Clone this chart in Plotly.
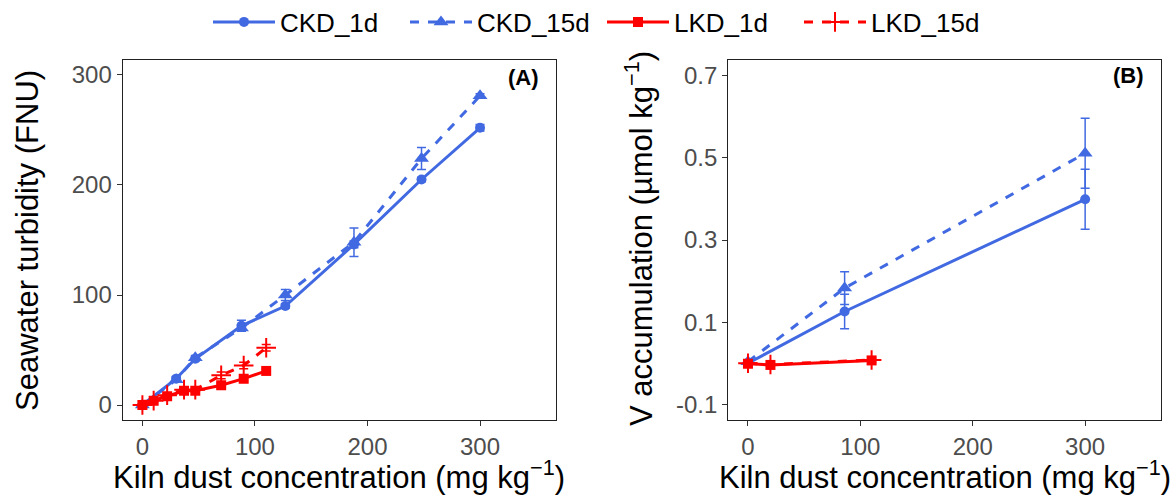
import plotly.graph_objects as go

# ---------------- data ----------------
# Panel A: seawater turbidity (FNU)
ckd_x_a = [0, 30, 47, 88, 127, 188, 248, 300]
ckd1_a = [0, 24, 42, 72, 90, 146, 205, 252]
ckd1_a_err = [1, 2, 2, 5, 2, 3, 2, 3]
ckd15_a = [0, 23, 43, 70, 100, 148, 224, 281]
ckd15_a_err = [1, 2, 2, 3, 5, 13, 10, 2]

lkd_x_a = [0, 10, 22, 37, 47, 70, 90, 110]
lkd1_a = [0, 4, 8, 13, 13, 18, 24, 31]
lkd1_a_err = [1, 1, 1, 1, 1, 2, 2, 2]
lkd15_a = [0, 4, 9, 14, 14, 27, 36, 52]
lkd15_a_err = [1, 1, 1, 1, 1, 3, 3, 3]

# Panel B: V accumulation (umol/kg)
ckd_x_b = [0, 86, 300]
ckd1_b = [0.0, 0.126, 0.399]
ckd1_b_err = [0.003, 0.042, 0.073]
ckd15_b = [0.004, 0.183, 0.511]
ckd15_b_err = [0.003, 0.040, 0.085]

lkd_x_b = [0, 20, 110]
lkd1_b = [-0.001, -0.004, 0.007]
lkd1_b_err = [0.003, 0.004, 0.005]
lkd15_b = [0.0, -0.003, 0.008]
lkd15_b_err = [0.003, 0.005, 0.006]

series_names = ["CKD_1d", "CKD_15d", "LKD_1d", "LKD_15d"]
x_ticks = [0, 100, 200, 300]
ya_ticks = [0, 100, 200, 300]
yb_ticks = [-0.1, 0.1, 0.3, 0.5, 0.7]

BLUE = "#4169E1"
RED = "#FF0000"
FONT = "Liberation Sans"

styles = {
    "CKD_1d": dict(color=BLUE, dash="solid", symbol="circle", size=10),
    "CKD_15d": dict(color=BLUE, dash="dash", symbol="triangle-up", size=13),
    "LKD_1d": dict(color=RED, dash="solid", symbol="square", size=10),
    "LKD_15d": dict(color=RED, dash="dash", symbol="cross-thin", size=14),
}

fig = go.Figure()


def add(name, x, y, err, xa, ya, show):
    s = styles[name]
    mk = dict(color=s["color"], symbol=s["symbol"], size=s["size"])
    if s["symbol"] == "cross-thin":
        mk["line"] = dict(color=s["color"], width=2)
    fig.add_trace(go.Scatter(
        x=x, y=y, name=name, mode="lines+markers",
        line=dict(color=s["color"], width=3, dash=s["dash"]),
        marker=mk,
        error_y=dict(type="data", array=err, visible=True, color=s["color"],
                     thickness=1.5, width=4.5),
        xaxis=xa, yaxis=ya, showlegend=show, legendgroup=name,
    ))


add("CKD_1d", ckd_x_a, ckd1_a, ckd1_a_err, "x", "y", True)
add("CKD_15d", ckd_x_a, ckd15_a, ckd15_a_err, "x", "y", True)
add("LKD_1d", lkd_x_a, lkd1_a, lkd1_a_err, "x", "y", True)
add("LKD_15d", lkd_x_a, lkd15_a, lkd15_a_err, "x", "y", True)

add("CKD_1d", ckd_x_b, ckd1_b, ckd1_b_err, "x2", "y2", False)
add("CKD_15d", ckd_x_b, ckd15_b, ckd15_b_err, "x2", "y2", False)
add("LKD_1d", lkd_x_b, lkd1_b, lkd1_b_err, "x2", "y2", False)
add("LKD_15d", lkd_x_b, lkd15_b, lkd15_b_err, "x2", "y2", False)

W, H = 1170, 496
ydom = [1 - 420 / H, 1 - 60 / H]

axis_common = dict(
    showline=True, mirror=True, linecolor="#222222", linewidth=1.3,
    ticks="outside", ticklen=5, tickwidth=1.3, tickcolor="#333333",
    showgrid=False, zeroline=False, automargin=False,
    tickfont=dict(family=FONT, size=24, color="#4D4D4D"),
)

fig.update_layout(
    width=W, height=H,
    margin=dict(l=0, r=0, t=0, b=0, autoexpand=False),
    paper_bgcolor="white", plot_bgcolor="white",
    font=dict(family=FONT, color="black"),
    xaxis=dict(domain=[122.7 / W, 556 / W], range=[-17.5, 367.5],
               tickvals=x_ticks, anchor="y", **axis_common),
    yaxis=dict(domain=ydom, range=[-13.6, 313.6], tickvals=ya_ticks,
               anchor="x", **axis_common),
    xaxis2=dict(domain=[728.3 / W, 1161 / W], range=[-17.5, 367.5],
                tickvals=x_ticks, anchor="y2", **axis_common),
    yaxis2=dict(domain=ydom, range=[-0.138, 0.738], tickvals=yb_ticks,
                ticktext=[f"{v:.1f}" for v in yb_ticks], anchor="x2",
                **axis_common),
    legend=dict(orientation="h", x=208 / W, xanchor="left", y=1 - 22 / H,
                yanchor="middle", font=dict(family=FONT, size=26, color="black"),
                itemwidth=62, entrywidth=120, entrywidthmode="pixels",
                tracegroupgap=0, bgcolor="rgba(0,0,0,0)"),
)

ann = []
xt = "Kiln dust concentration (mg kg<sup>\u22121</sup>)"
for cx in [(122.7 + 556) / 2 / W, (728.3 + 1161) / 2 / W]:
    ann.append(dict(text=xt, x=cx, y=1 - 475 / H, xref="paper", yref="paper",
                    xanchor="center", yanchor="middle", showarrow=False,
                    font=dict(family=FONT, size=31, color="black")))
ann.append(dict(text="Seawater turbidity (FNU)", x=28 / W, y=1 - 241 / H,
                xref="paper", yref="paper", textangle=-90,
                xanchor="center", yanchor="middle", showarrow=False,
                font=dict(family=FONT, size=31, color="black")))
ann.append(dict(text="V accumulation (\u00b5mol kg<sup>\u22121</sup>)", x=639 / W,
                y=1 - 238 / H, xref="paper", yref="paper", textangle=-90,
                xanchor="center", yanchor="middle", showarrow=False,
                font=dict(family=FONT, size=31, color="black")))
ann.append(dict(text="<b>(A)</b>", x=523 / W, y=1 - 78 / H, xref="paper",
                yref="paper", xanchor="center", yanchor="middle", showarrow=False,
                font=dict(family=FONT, size=22, color="black")))
ann.append(dict(text="<b>(B)</b>", x=1128 / W, y=1 - 76 / H, xref="paper",
                yref="paper", xanchor="center", yanchor="middle", showarrow=False,
                font=dict(family=FONT, size=22, color="black")))
fig.update_layout(annotations=ann)

fig.write_html("out.html", config={"displayModeBar": False},
               post_script="document.body.style.margin='0';")
